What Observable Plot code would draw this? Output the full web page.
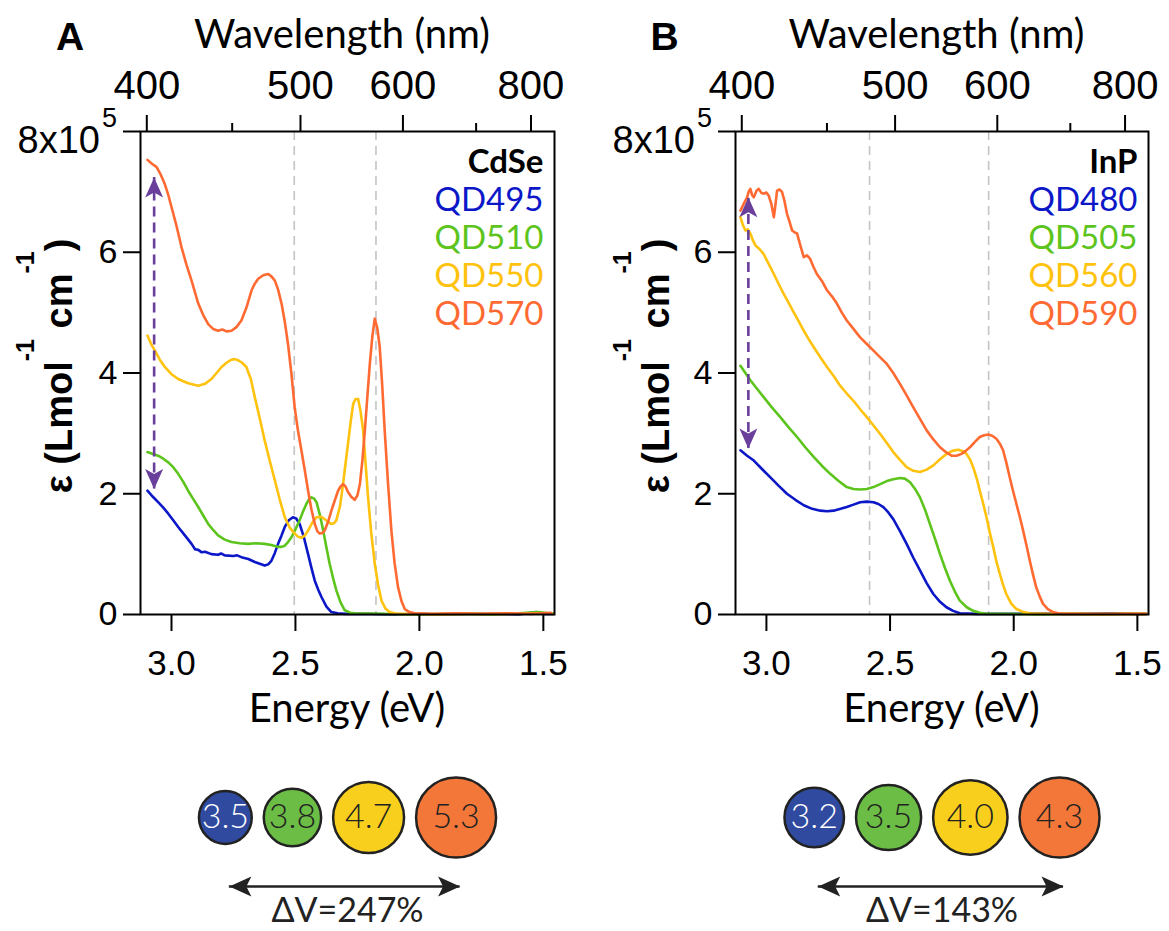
<!DOCTYPE html>
<html><head><meta charset="utf-8">
<script src="https://cdn.jsdelivr.net/npm/d3@7"></script>
<script src="https://cdn.jsdelivr.net/npm/@observablehq/plot@0.6"></script>
<style>
body{margin:0;background:#fff;}
#fig{position:relative;width:1169px;height:931px;overflow:hidden;background:#fff;}
#fig > svg{position:absolute;}
</style></head><body><div id="fig"></div>
<script>
// ---------- data ----------
const HC = 1239.84; // eV*nm, E = HC / lambda
const energyTicks = [3.0, 2.5, 2.0, 1.5];
const wavelengthTicks = [400, 500, 600, 800];
const wavelengthMinor = [450, 700];
const yTicks = [0, 2, 4, 6, 8];

const cdseNames = ["QD495", "QD510", "QD550", "QD570"];
const inpNames = ["QD480", "QD505", "QD560", "QD590"];
const seriesColors = ["#0c18c8", "#5cc41c", "#ffc20e", "#ff6a33"];
const cdseDashedNm = [495, 570];
const inpDashedNm = [480, 590];
const cdseSizes = [3.5, 3.8, 4.7, 5.3];
const inpSizes = [3.2, 3.5, 4.0, 4.3];
const cdseDeltaV = "ΔV=247%";
const inpDeltaV = "ΔV=143%";
const dotFills = ["#2f4a9f", "#6bbd45", "#f8cf1d", "#f37738"];
const dotTextFills = ["#ffffff", "#222222", "#222222", "#222222"];
const cdseArrow = {e: 3.07, lo: 2.08, hi: 7.24};
const inpArrow = {e: 3.073, lo: 2.75, hi: 6.91};

// energy (eV), epsilon (1e5 L/mol/cm)
const cdse495 = [[3.097,2.05],[3.075,1.95],[3.054,1.86],[3.033,1.77],[3.013,1.67],[2.993,1.56],[2.973,1.45],[2.946,1.31],[2.919,1.17],[2.905,1.08],[2.892,1.07],[2.878,1.03],[2.865,1.04],[2.839,1.00],[2.812,0.99],[2.8,1.01],[2.785,0.98],[2.75,0.97],[2.735,0.98],[2.718,0.95],[2.69,0.92],[2.664,0.87],[2.644,0.84],[2.624,0.81],[2.61,0.83],[2.597,0.89],[2.583,1.02],[2.57,1.17],[2.556,1.31],[2.543,1.45],[2.527,1.56],[2.51,1.61],[2.497,1.59],[2.483,1.50],[2.466,1.28],[2.449,1.00],[2.436,0.78],[2.422,0.56],[2.408,0.41],[2.395,0.29],[2.375,0.13],[2.355,0.04],[2.33,0.02],[2.3,0.01],[2.2,0.01],[2.1,0.0],[2.0,0.01],[1.9,0.0],[1.8,0.01],[1.7,0.01],[1.6,0.0],[1.53,0.04],[1.5,0.01],[1.46,0.01]];
const cdse510 = [[3.097,2.69],[3.075,2.66],[3.054,2.63],[3.033,2.58],[3.013,2.52],[2.993,2.44],[2.973,2.33],[2.953,2.2],[2.933,2.05],[2.912,1.91],[2.892,1.78],[2.872,1.64],[2.852,1.50],[2.832,1.40],[2.812,1.31],[2.785,1.24],[2.758,1.20],[2.725,1.18],[2.691,1.17],[2.66,1.18],[2.624,1.17],[2.597,1.15],[2.57,1.12],[2.556,1.12],[2.543,1.14],[2.53,1.20],[2.516,1.28],[2.5,1.41],[2.483,1.56],[2.47,1.70],[2.456,1.83],[2.445,1.91],[2.435,1.94],[2.425,1.92],[2.415,1.86],[2.402,1.66],[2.388,1.39],[2.375,1.11],[2.362,0.84],[2.348,0.60],[2.335,0.40],[2.318,0.2],[2.301,0.07],[2.28,0.03],[2.261,0.02],[2.15,0.01],[2.0,0.0],[1.9,0.01],[1.8,0.01],[1.7,0.0],[1.6,0.02],[1.52,0.04],[1.46,0.01]];
const cdse550 = [[3.097,4.62],[3.082,4.48],[3.067,4.37],[3.047,4.22],[3.027,4.10],[3.0,3.98],[2.973,3.90],[2.933,3.83],[2.892,3.79],[2.865,3.82],[2.839,3.90],[2.818,4.00],[2.798,4.10],[2.778,4.17],[2.758,4.22],[2.745,4.23],[2.731,4.21],[2.715,4.17],[2.698,4.10],[2.68,3.90],[2.664,3.60],[2.644,3.25],[2.624,2.88],[2.604,2.55],[2.583,2.22],[2.563,1.90],[2.543,1.61],[2.523,1.44],[2.503,1.34],[2.49,1.29],[2.476,1.27],[2.462,1.31],[2.449,1.39],[2.432,1.52],[2.415,1.61],[2.398,1.62],[2.382,1.58],[2.368,1.53],[2.355,1.50],[2.345,1.51],[2.335,1.56],[2.32,1.80],[2.308,2.16],[2.298,2.5],[2.288,2.83],[2.277,3.2],[2.267,3.49],[2.257,3.57],[2.247,3.57],[2.237,3.36],[2.227,3.05],[2.217,2.5],[2.207,1.94],[2.195,1.38],[2.18,0.84],[2.167,0.5],[2.153,0.23],[2.137,0.10],[2.12,0.04],[2.1,0.02],[2.086,0.01],[2.0,0.01],[1.9,0.0],[1.8,0.01],[1.7,0.01],[1.6,0.01],[1.5,0.02],[1.46,0.01]];
const cdse570 = [[3.097,7.53],[3.08,7.47],[3.06,7.41],[3.045,7.3],[3.027,7.13],[3.013,6.95],[3.0,6.75],[2.98,6.44],[2.96,6.09],[2.94,5.80],[2.919,5.53],[2.905,5.33],[2.892,5.15],[2.872,4.96],[2.852,4.81],[2.832,4.73],[2.812,4.70],[2.795,4.72],[2.778,4.69],[2.758,4.70],[2.738,4.76],[2.718,4.87],[2.698,5.08],[2.677,5.37],[2.664,5.48],[2.65,5.56],[2.63,5.62],[2.61,5.64],[2.597,5.6],[2.583,5.53],[2.57,5.38],[2.556,5.15],[2.543,4.85],[2.53,4.48],[2.516,3.98],[2.503,3.43],[2.49,3.05],[2.476,2.72],[2.462,2.38],[2.449,2.05],[2.436,1.75],[2.422,1.50],[2.412,1.38],[2.402,1.34],[2.392,1.35],[2.382,1.39],[2.368,1.54],[2.355,1.72],[2.342,1.88],[2.328,2.05],[2.318,2.12],[2.308,2.16],[2.298,2.12],[2.288,2.03],[2.275,1.95],[2.261,1.90],[2.25,1.97],[2.24,2.16],[2.23,2.55],[2.22,3.05],[2.21,3.6],[2.2,4.15],[2.19,4.6],[2.18,4.90],[2.17,4.75],[2.16,4.43],[2.15,3.8],[2.14,3.05],[2.127,2.2],[2.113,1.39],[2.1,0.85],[2.086,0.45],[2.072,0.22],[2.059,0.09],[2.04,0.04],[2.019,0.02],[1.95,0.01],[1.85,0.02],[1.75,0.01],[1.65,0.02],[1.55,0.01],[1.47,0.03]];

const inp480 = [[3.105,2.72],[3.078,2.63],[3.051,2.55],[3.018,2.41],[2.984,2.27],[2.95,2.13],[2.917,2.00],[2.883,1.90],[2.849,1.81],[2.815,1.75],[2.782,1.72],[2.755,1.71],[2.728,1.72],[2.70,1.75],[2.675,1.78],[2.648,1.82],[2.621,1.86],[2.594,1.87],[2.567,1.86],[2.547,1.83],[2.527,1.78],[2.507,1.69],[2.487,1.58],[2.46,1.38],[2.433,1.17],[2.406,0.94],[2.379,0.73],[2.352,0.52],[2.325,0.34],[2.298,0.21],[2.272,0.12],[2.245,0.06],[2.218,0.02],[2.15,0.01],[2.0,0.01],[1.9,0.02],[1.8,0.01],[1.7,0.01],[1.6,0.02],[1.5,0.01],[1.465,0.01]];
const inp505 = [[3.105,4.12],[3.085,4.0],[3.065,3.88],[3.038,3.74],[3.011,3.60],[2.978,3.43],[2.944,3.27],[2.91,3.10],[2.876,2.94],[2.843,2.77],[2.809,2.61],[2.775,2.46],[2.742,2.33],[2.708,2.21],[2.675,2.11],[2.648,2.08],[2.621,2.07],[2.594,2.08],[2.567,2.11],[2.54,2.16],[2.513,2.21],[2.487,2.24],[2.46,2.26],[2.44,2.25],[2.419,2.19],[2.399,2.08],[2.379,1.94],[2.359,1.74],[2.339,1.50],[2.318,1.25],[2.298,1.00],[2.278,0.77],[2.258,0.56],[2.238,0.38],[2.218,0.23],[2.19,0.12],[2.164,0.06],[2.137,0.03],[2.11,0.01],[2.0,0.01],[1.9,0.0],[1.8,0.01],[1.7,0.01],[1.6,0.01],[1.5,0.01],[1.465,0.01]];
const inp560 = [[3.105,6.58],[3.095,6.45],[3.085,6.36],[3.075,6.38],[3.065,6.31],[3.055,6.2],[3.044,6.11],[3.027,6.05],[3.011,5.97],[2.99,5.80],[2.97,5.64],[2.95,5.47],[2.93,5.31],[2.91,5.16],[2.89,5.01],[2.87,4.86],[2.849,4.70],[2.829,4.56],[2.809,4.43],[2.782,4.26],[2.755,4.10],[2.728,3.95],[2.702,3.79],[2.675,3.66],[2.648,3.54],[2.621,3.40],[2.594,3.27],[2.567,3.13],[2.54,2.99],[2.513,2.84],[2.487,2.69],[2.46,2.56],[2.433,2.44],[2.406,2.38],[2.379,2.36],[2.352,2.40],[2.325,2.47],[2.298,2.57],[2.272,2.66],[2.248,2.71],[2.224,2.73],[2.208,2.71],[2.191,2.66],[2.177,2.57],[2.164,2.44],[2.15,2.26],[2.137,2.05],[2.123,1.83],[2.11,1.61],[2.097,1.36],[2.083,1.12],[2.07,0.88],[2.056,0.67],[2.043,0.49],[2.03,0.34],[2.01,0.18],[1.989,0.09],[1.96,0.04],[1.935,0.02],[1.85,0.01],[1.75,0.01],[1.65,0.0],[1.55,0.01],[1.465,0.01]];
const inp590 = [[3.105,6.69],[3.092,6.8],[3.078,6.91],[3.072,7.0],[3.065,7.05],[3.058,6.95],[3.051,6.91],[3.04,7.02],[3.031,7.05],[3.02,6.98],[3.011,6.97],[3.0,6.99],[2.991,6.94],[2.98,6.8],[2.97,6.58],[2.963,6.8],[2.957,7.02],[2.947,7.04],[2.937,7.0],[2.927,6.85],[2.917,6.64],[2.906,6.5],[2.896,6.36],[2.886,6.33],[2.876,6.31],[2.862,6.1],[2.849,5.92],[2.836,5.95],[2.823,5.89],[2.81,5.76],[2.796,5.64],[2.775,5.52],[2.755,5.37],[2.735,5.27],[2.715,5.15],[2.695,5.0],[2.675,4.87],[2.648,4.73],[2.621,4.59],[2.594,4.48],[2.567,4.37],[2.54,4.26],[2.513,4.15],[2.487,4.0],[2.46,3.82],[2.433,3.63],[2.406,3.43],[2.379,3.24],[2.352,3.05],[2.325,2.9],[2.298,2.77],[2.275,2.69],[2.251,2.63],[2.231,2.63],[2.211,2.66],[2.194,2.71],[2.177,2.77],[2.157,2.86],[2.137,2.94],[2.12,2.97],[2.103,2.98],[2.087,2.96],[2.07,2.91],[2.056,2.83],[2.043,2.72],[2.03,2.52],[2.016,2.27],[2.003,2.05],[1.989,1.83],[1.975,1.61],[1.962,1.39],[1.948,1.14],[1.935,0.89],[1.922,0.66],[1.909,0.45],[1.895,0.30],[1.882,0.18],[1.862,0.09],[1.841,0.04],[1.82,0.02],[1.801,0.01],[1.7,0.01],[1.6,0.01],[1.5,0.01],[1.465,0.01]];

// ---------- helpers ----------
const TICK_FONT = "'Liberation Sans', Arial, sans-serif";
const TEXT_FONT = "Lato, 'Open Sans', sans-serif";
const PURPLE = "#6a3f9c";
const fig = d3.select("#fig");

function headSymbol(len, half, notch) {
  return {draw(ctx) {
    ctx.moveTo(0, 0);
    ctx.lineTo(-half, len);
    ctx.lineTo(0, len - notch);
    ctx.lineTo(half, len);
    ctx.closePath();
  }};
}

function panel({series, names, title, dashed, arrow, letter, left, width, ml, mr, ylabelOffset}) {
  const H = 740, mt = 131, mb = 126;
  const rows = series.flatMap((s, i) => s.map(([e, v]) => ({e, v, name: names[i]})));
  const legend = [title, ...names].map((t, i) => Plot.text([t], {
    text: d => d, frameAnchor: "top-right", textAnchor: "end", lineAnchor: "top",
    dx: -11, dy: 18 + i * 38, fontSize: 33, fontFamily: TEXT_FONT,
    fontWeight: i === 0 ? "bold" : "normal", fill: i === 0 ? "#000" : seriesColors[i - 1]
  }));
  const svg = Plot.plot({
    width, height: H, marginLeft: ml, marginRight: mr, marginTop: mt, marginBottom: mb,
    style: {fontFamily: TICK_FONT, background: "white", color: "black", overflow: "visible"},
    x: {domain: [3.125, 1.455]},
    y: {domain: [0, 8]},
    color: {domain: names, range: seriesColors},
    marks: [
      Plot.ruleX(dashed.map(l => HC / l), {stroke: "#c4c4c4", strokeWidth: 1.6, strokeDasharray: "9,6"}),
      Plot.line(rows, {x: "e", y: "v", z: "name", stroke: "name", strokeWidth: 2.6, strokeLinejoin: "round"}),
      Plot.ruleX([arrow], {x: "e", y1: "lo", y2: "hi", stroke: PURPLE, strokeWidth: 2.6, strokeDasharray: "10,6"}),
      Plot.dot([arrow], {x: "e", y: "hi", symbol: headSymbol(20, 9, 5), fill: PURPLE, stroke: "none"}),
      Plot.dot([arrow], {x: "e", y: "lo", symbol: headSymbol(20, 9, 5), rotate: 180, fill: PURPLE, stroke: "none"}),
      Plot.frame({stroke: "#000", strokeWidth: 2}),
      Plot.axisY({ticks: yTicks, tickSize: 17, tickPadding: 6, tickFormat: d => d === 8 ? "" : String(d), fontSize: 34, strokeWidth: 2, label: null}),
      Plot.axisX({anchor: "bottom", ticks: energyTicks, tickFormat: d3.format(".1f"), tickSize: 17, tickPadding: 19, fontSize: 35, strokeWidth: 2, label: null}),
      Plot.axisX({anchor: "top", ticks: wavelengthTicks.map(l => HC / l), tickFormat: e => String(Math.round(HC / e)), tickSize: 17, tickPadding: 16, fontSize: 40, strokeWidth: 2, label: null}),
      Plot.axisX({anchor: "top", ticks: wavelengthMinor.map(l => HC / l), tickFormat: () => "", tickSize: 9, strokeWidth: 2, label: null}),
      ...legend
    ]
  });
  svg.style.left = left + "px";
  svg.style.top = "0px";
  fig.node().appendChild(svg);
  const s = d3.select(svg);
  const cx = ml + (width - ml - mr) / 2;
  // panel letter
  s.append("text").attr("x", cx - 277).attr("y", 50).attr("text-anchor", "middle")
    .attr("font-family", TICK_FONT).attr("font-weight", "bold").attr("font-size", 39).text(letter);
  // axis titles
  s.append("text").attr("x", cx - 5).attr("y", 48).attr("text-anchor", "middle")
    .attr("font-family", TEXT_FONT).attr("font-size", 40).text("Wavelength (nm)");
  s.append("text").attr("x", cx).attr("y", 722).attr("text-anchor", "middle")
    .attr("font-family", TEXT_FONT).attr("font-size", 40).text("Energy (eV)");
  // 8x10^5
  s.append("text").attr("x", ml - 40).attr("y", 153).attr("text-anchor", "end")
    .attr("font-family", TICK_FONT).attr("font-size", 38).text("8x10");
  s.append("text").attr("x", ml - 38).attr("y", 127).attr("text-anchor", "start")
    .attr("font-family", TICK_FONT).attr("font-size", 27).text("5");
  // y label with superscripts
  const yl = s.append("text").attr("transform", `translate(${ml - ylabelOffset},366) rotate(-90)`)
    .attr("text-anchor", "middle").attr("font-family", TICK_FONT).attr("font-weight", "bold").attr("font-size", 38);
  yl.append("tspan").text("ε (Lmol");
  yl.append("tspan").attr("font-size", 25).attr("dy", -38).text("-1");
  yl.append("tspan").attr("dy", 38).text(" cm");
  yl.append("tspan").attr("font-size", 25).attr("dy", -38).text("-1");
  yl.append("tspan").attr("dy", 38).text(")");
}

function sizeRow({sizes, label, left, width, ml, mr}) {
  const maxR = 40, gap = 12;
  const max = d3.max(sizes);
  const rad = v => v / max * maxR;
  const center = ml + (width - ml - mr) / 2;
  const total = d3.sum(sizes, v => 2 * rad(v)) + gap * (sizes.length - 1);
  let cur = center - total / 2;
  const dots = sizes.map((v, i) => { const c = cur + rad(v); cur += 2 * rad(v) + gap; return {v, cx: c, i}; });
  const ends = [{x: dots[0].cx + 4, j: 0}, {x: dots[dots.length - 1].cx + 4, j: 1}];
  const svg = Plot.plot({
    width, height: 191, marginTop: 0, marginBottom: 37, marginLeft: 0, marginRight: 0,
    style: {background: "transparent", overflow: "visible"},
    x: {type: "identity", axis: null},
    y: {domain: [-1, 1], axis: null},
    r: {type: "linear", domain: [0, max], range: [0, maxR]},
    marks: [
      Plot.dot(dots, {x: "cx", y: 0, r: "v", fill: d => dotFills[d.i], stroke: "#222", strokeWidth: 2.5}),
      Plot.text(dots, {x: "cx", y: 0, text: d => d.v.toFixed(1), fill: d => dotTextFills[d.i], fontSize: 34,
        fontFamily: TEXT_FONT, fontWeight: 300, lineAnchor: "middle", ariaLabel: "size-label"}),
      Plot.ruleY([0], {x1: ends[0].x, x2: ends[1].x, dy: 69, stroke: "#222", strokeWidth: 2.5}),
      Plot.dot(ends, {x: "x", y: 0, dy: 69, symbol: headSymbol(22, 10, 5), rotate: d => d.j === 0 ? -90 : 90, fill: "#222", stroke: "none"}),
      Plot.text([label], {x: center, y: 0, dy: 80, text: d => d, lineAnchor: "top", fontSize: 34, fontFamily: TEXT_FONT, fill: "#222"})
    ]
  });
  svg.style.left = left + "px";
  svg.style.top = "740px";
  fig.node().appendChild(svg);
  d3.select(svg).selectAll('g[aria-label="size-label"] text').attr("letter-spacing", "-2");
}

panel({series: [cdse495, cdse510, cdse550, cdse570], names: cdseNames, title: "CdSe", dashed: cdseDashedNm,
  arrow: cdseArrow, letter: "A", left: 0, width: 584, ml: 140, mr: 30, ylabelOffset: 68});
panel({series: [inp480, inp505, inp560, inp590], names: inpNames, title: "InP", dashed: inpDashedNm,
  arrow: inpArrow, letter: "B", left: 584, width: 585, ml: 151, mr: 21, ylabelOffset: 66});
sizeRow({sizes: cdseSizes, label: cdseDeltaV, left: 0, width: 584, ml: 140, mr: 30});
sizeRow({sizes: inpSizes, label: inpDeltaV, left: 584, width: 585, ml: 151, mr: 21});
</script></body></html>
